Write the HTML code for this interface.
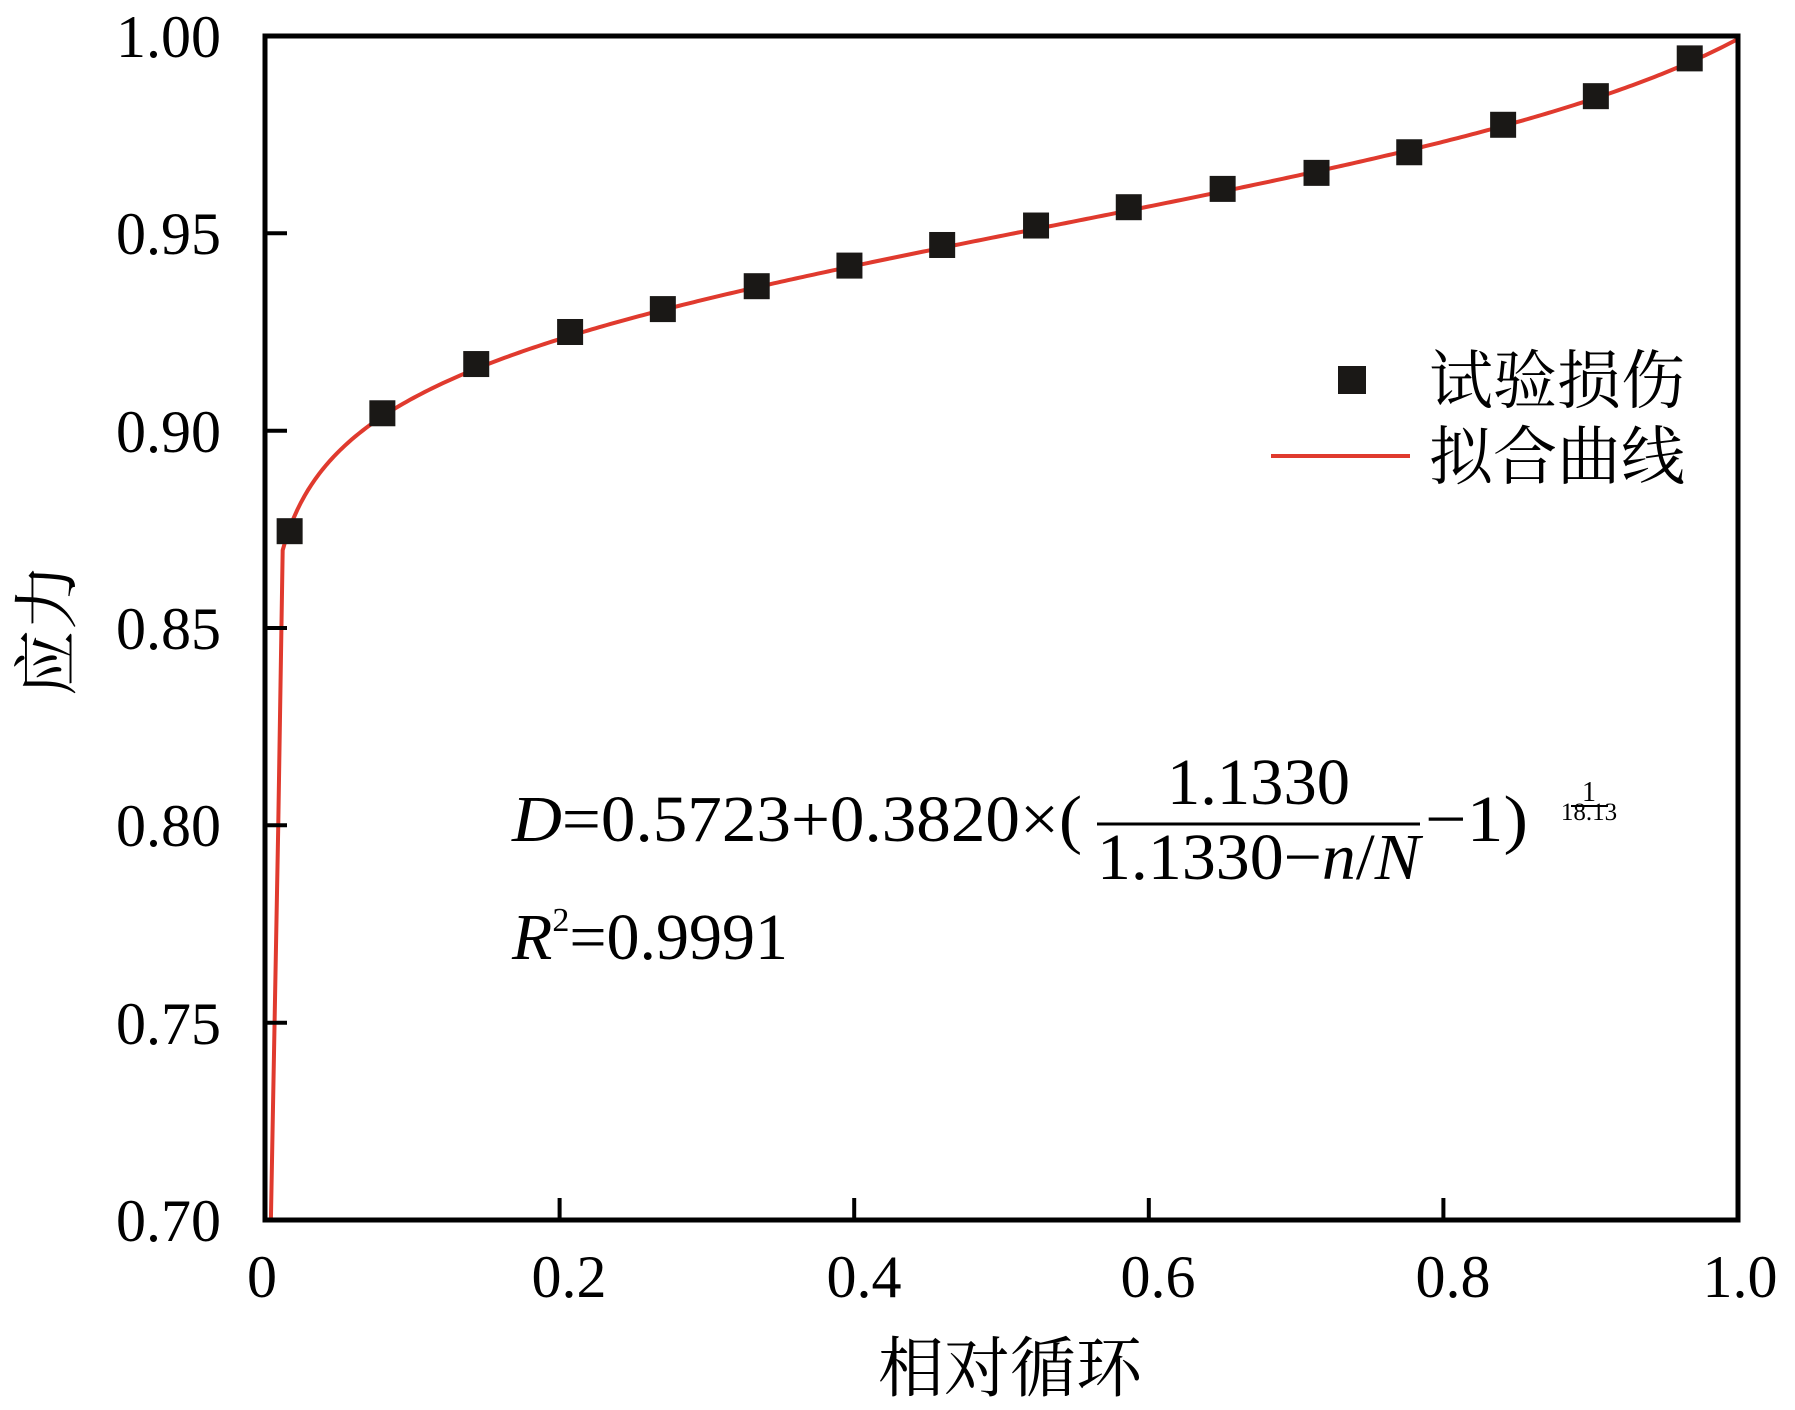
<!DOCTYPE html>
<html><head><meta charset="utf-8"><style>
html,body{margin:0;padding:0;background:#fff;}
svg{display:block;}
text{font-family:"Liberation Serif","Noto Serif CJK SC",serif;fill:#000;}
.cjk{font-family:"Liberation Serif","Noto Serif CJK SC","Noto Sans CJK SC",serif;}
</style></head><body>
<svg id="s" width="1795" height="1410" viewBox="0 0 1795 1410" xmlns="http://www.w3.org/2000/svg">
<rect width="1795" height="1410" fill="#fff"/>
<g id="plot"></g>
<rect x="265" y="36" width="1473" height="1184" fill="none" stroke="#000" stroke-width="5"/>
<g stroke="#000" stroke-width="4">
<line x1="265" y1="233.3" x2="287" y2="233.3"/>
<line x1="265" y1="430.7" x2="287" y2="430.7"/>
<line x1="265" y1="628" x2="287" y2="628"/>
<line x1="265" y1="825.3" x2="287" y2="825.3"/>
<line x1="265" y1="1022.7" x2="287" y2="1022.7"/>
<line x1="559.6" y1="1220" x2="559.6" y2="1198"/>
<line x1="854.2" y1="1220" x2="854.2" y2="1198"/>
<line x1="1148.8" y1="1220" x2="1148.8" y2="1198"/>
<line x1="1443.4" y1="1220" x2="1443.4" y2="1198"/>
</g>
<g font-size="60" text-anchor="end">
<text x="221" y="57">1.00</text>
<text x="221" y="254">0.95</text>
<text x="221" y="452">0.90</text>
<text x="221" y="649">0.85</text>
<text x="221" y="846">0.80</text>
<text x="221" y="1044">0.75</text>
<text x="221" y="1241">0.70</text>
</g>
<g font-size="60" text-anchor="middle">
<text x="262" y="1297">0</text>
<text x="569" y="1297">0.2</text>
<text x="864" y="1297">0.4</text>
<text x="1158" y="1297">0.6</text>
<text x="1453" y="1297">0.8</text>
<text x="1740" y="1297">1.0</text>
</g>
<text class="cjk" x="1010" y="1391" font-size="66" text-anchor="middle">相对循环</text>
<text class="cjk" transform="translate(70,630) rotate(-90)" font-size="66" text-anchor="middle">应力</text>
<rect x="1338" y="366" width="28" height="28" fill="#1a1816"/>
<text class="cjk" x="1429" y="403" font-size="64">试验损伤</text>
<line x1="1271" y1="456" x2="1410" y2="456" stroke="#e03a2e" stroke-width="4"/>
<text class="cjk" x="1429" y="479" font-size="64">拟合曲线</text>
<g font-size="66">
<text x="512" y="841" textLength="570" lengthAdjust="spacingAndGlyphs"><tspan font-style="italic">D</tspan>=0.5723+0.3820×(</text>
<text x="1167" y="804" textLength="183" lengthAdjust="spacingAndGlyphs">1.1330</text>
<line x1="1097" y1="824" x2="1420" y2="824" stroke="#000" stroke-width="3"/>
<text x="1097" y="879" textLength="323" lengthAdjust="spacingAndGlyphs">1.1330−<tspan font-style="italic">n</tspan>/<tspan font-style="italic">N</tspan></text>
<text x="1425" y="841" textLength="103" lengthAdjust="spacingAndGlyphs">−1)</text>
<text x="1589" y="801" font-size="28" text-anchor="middle">1</text>
<line x1="1571" y1="806" x2="1608" y2="806" stroke="#000" stroke-width="2"/>
<text x="1589" y="820" font-size="25" text-anchor="middle">18.13</text>
<text x="512" y="959"><tspan font-style="italic">R</tspan><tspan font-size="34" dy="-28">2</tspan><tspan dy="28">=0.9991</tspan></text>
</g>
</svg>
<script>
(function(){
var X=function(r){return 265+r*1473;};
var Y=function(v){return 36+(1-v)/0.05*197.33;};
var d="M"+X(0.004)+","+Y(0.70)+" L"+X(0.009)+","+Y(0.80);
for(var i=0;i<=400;i++){
 var x=0.012+(1-0.012)*i/400;
 var D=0.5723+0.382*Math.pow(1.133/(1.133-x)-1,1/18.13);
 d+=" L"+X(x).toFixed(2)+","+Y(D).toFixed(2);
}
var g=document.getElementById("plot");
var ns="http://www.w3.org/2000/svg";
var p=document.createElementNS(ns,"path");
p.setAttribute("d",d);p.setAttribute("fill","none");p.setAttribute("stroke","#e03a2e");p.setAttribute("stroke-width","4");
g.appendChild(p);
var dx=[253,334,416,498,579,661,742,823,905,986,1068,1150,1231,1313,1394,1476];
var dy=[464,361,318,290,270,250,232,214,197,181,165,151,133,109,84,51];
for(var j=0;j<dx.length;j++){
 var r=document.createElementNS(ns,"rect");
 var cx=dx[j]*1.1448,cy=dy[j]*1.1448;
 r.setAttribute("x",cx-13);r.setAttribute("y",cy-13);r.setAttribute("width",26);r.setAttribute("height",26);
 r.setAttribute("fill","#1a1816");g.appendChild(r);
}
})();
</script>
</body></html>
